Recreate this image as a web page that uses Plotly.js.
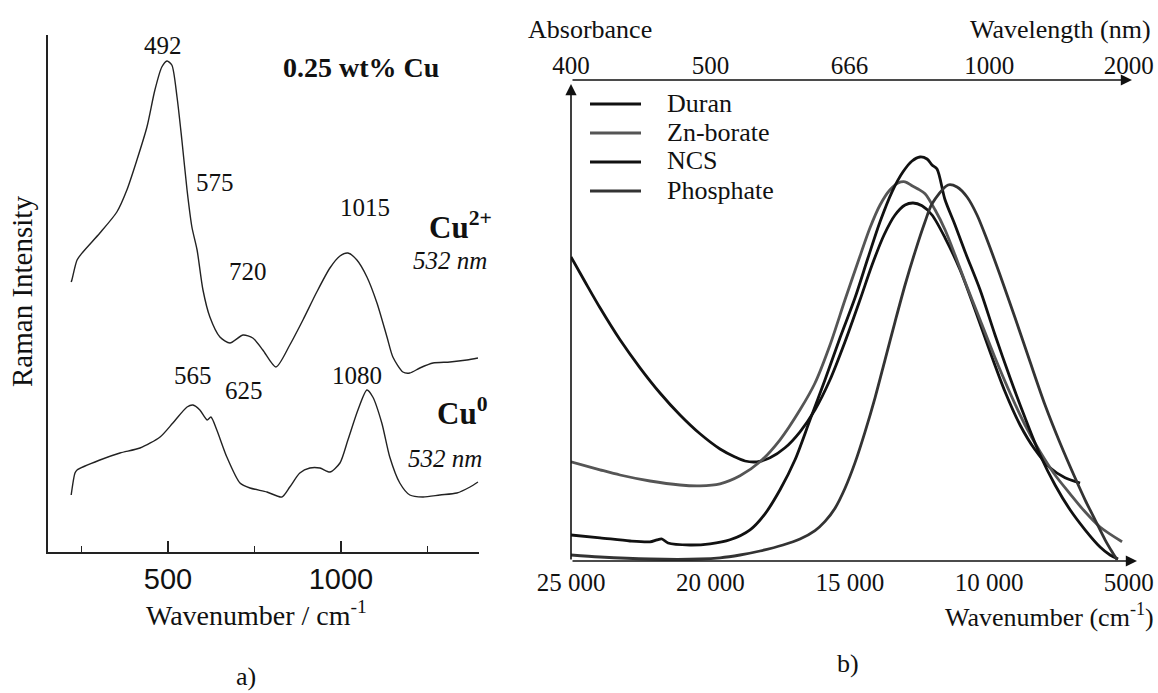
<!DOCTYPE html>
<html><head><meta charset="utf-8">
<script src="https://cdn.plot.ly/plotly-3.0.1.min.js"></script>
<style>html,body{margin:0;padding:0;background:#fff;}#chart{width:1158px;height:693px;}</style>
</head><body><div id="chart"></div>
<script>
// ---------- Panel a) Raman spectra ----------
const cu2Wavenumber = [220,222,237,254,303,352,381,410,439,462,482,497,511,526,540,555,569,584,601,621,650,679,717,745,774,812,852,890,930,968,997,1020,1046,1075,1104,1133,1150,1179,1199,1228,1266,1315,1364,1396];
const cu2Intensity  = [2.70,2.72,2.92,3.00,3.19,3.40,3.62,3.92,4.25,4.62,4.85,4.91,4.87,4.55,4.12,3.62,3.25,3.02,2.62,2.35,2.15,2.09,2.17,2.14,2.02,1.85,2.07,2.32,2.60,2.84,2.96,2.99,2.92,2.75,2.49,2.15,1.95,1.80,1.79,1.84,1.89,1.90,1.92,1.94];
const cu0Wavenumber = [220,231,237,303,361,419,477,514,555,572,592,613,624,641,670,708,737,786,829,852,881,910,939,968,997,1020,1049,1075,1092,1118,1141,1170,1199,1237,1286,1335,1373,1396];
const cu0Intensity  = [0.57,0.79,0.82,0.92,0.99,1.04,1.15,1.29,1.45,1.47,1.42,1.32,1.35,1.22,0.95,0.69,0.64,0.60,0.55,0.65,0.79,0.84,0.84,0.80,0.89,1.12,1.42,1.62,1.55,1.29,0.95,0.69,0.57,0.55,0.57,0.59,0.65,0.70];
const ramanTicks = [500, 1000];

// ---------- Panel b) Absorbance spectra ----------
const duranWn  = [25000,24498,23960,23242,22525,21808,21090,20373,19655,19117,18759,18328,17862,17324,16786,16248,15710,15172,14634,14203,13773,13378,13019,12732,12410,12051,11585,11047,10509,9971,9432,8894,8356,7818,7280,6742];
const duranAbs = [0.760,0.698,0.633,0.553,0.483,0.420,0.365,0.318,0.280,0.260,0.250,0.248,0.258,0.283,0.323,0.378,0.453,0.548,0.653,0.740,0.815,0.865,0.890,0.895,0.888,0.865,0.808,0.728,0.628,0.523,0.423,0.340,0.278,0.233,0.208,0.195];
const znWn  = [25000,23960,23242,22166,21090,20373,19655,18938,18221,17503,16786,16248,15710,15172,14705,14275,13916,13557,13271,13019,12768,12553,12302,11943,11585,11226,10867,10329,9791,9253,8715,8177,7639,7101,6563,6025,5236];
const znAbs = [0.248,0.228,0.215,0.200,0.190,0.188,0.193,0.213,0.248,0.303,0.378,0.445,0.540,0.653,0.748,0.833,0.890,0.928,0.945,0.948,0.938,0.930,0.918,0.878,0.828,0.765,0.698,0.603,0.508,0.420,0.340,0.273,0.215,0.168,0.123,0.085,0.048];
const ncsWn  = [25000,23960,22884,22166,21915,21736,21521,20731,20014,19297,18579,18041,17503,16965,16427,15889,15351,14813,14347,13916,13486,13091,12768,12481,12230,12051,11872,11585,11226,10867,10329,9791,9253,8715,8177,7639,7101,6563,6025,5666,5379];
const ncsAbs = [0.065,0.058,0.050,0.048,0.053,0.055,0.045,0.040,0.043,0.053,0.078,0.118,0.178,0.253,0.353,0.453,0.558,0.658,0.758,0.848,0.923,0.973,1.000,1.010,1.005,0.990,0.980,0.903,0.840,0.773,0.678,0.565,0.458,0.358,0.265,0.190,0.128,0.078,0.035,0.015,0.005];
const phosWn  = [25000,23960,22166,20373,19655,18938,18221,17396,16786,16248,15889,15531,15172,14813,14454,14096,13737,13378,13019,12660,12302,12051,11477,11154,10795,10437,10078,9612,9074,8536,7998,7460,6922,6563,6204,5845,5595,5415];
const phosAbs = [0.015,0.010,0.005,0.005,0.008,0.015,0.025,0.040,0.055,0.076,0.099,0.132,0.182,0.246,0.323,0.408,0.503,0.598,0.690,0.773,0.848,0.893,0.940,0.935,0.910,0.865,0.803,0.715,0.608,0.498,0.390,0.295,0.208,0.153,0.103,0.053,0.023,0.003];

const glassNames  = ['Duran', 'Zn-borate', 'NCS', 'Phosphate'];
const glassColors = ['#111111', '#555555', '#111111', '#333333'];
const glassWn  = [duranWn, znWn, ncsWn, phosWn];
const glassAbs = [duranAbs, znAbs, ncsAbs, phosAbs];

const wnTicks       = [25000, 20000, 15000, 10000, 5000];
const wnTickText    = ['25 000', '20 000', '15 000', '10 000', '5000'];
const lambdaTicks   = [25000, 20000, 15015, 10000, 5000];
const lambdaTickTxt = ['400', '500', '666', '1000', '2000'];

// ---------- layout helpers (pixel -> paper) ----------
const W = 1158, H = 693;
const px = v => v / W;
const py = v => 1 - v / H;
const SERIF = 'Liberation Serif, Times New Roman, serif';
const SANS = 'Liberation Sans, Arial, sans-serif';

const traces = [
  {x: cu2Wavenumber, y: cu2Intensity, xaxis: 'x', yaxis: 'y', mode: 'lines',
   line: {color: '#222', width: 1.4, shape: 'spline', smoothing: 0.7}, hoverinfo: 'skip'},
  {x: cu0Wavenumber, y: cu0Intensity, xaxis: 'x', yaxis: 'y', mode: 'lines',
   line: {color: '#222', width: 1.4, shape: 'spline', smoothing: 0.7}, hoverinfo: 'skip'}
];
glassNames.forEach((n, i) => traces.push({
  x: glassWn[i], y: glassAbs[i], name: n, xaxis: 'x2', yaxis: 'y2', mode: 'lines',
  line: {color: glassColors[i], width: 2.8, shape: 'spline', smoothing: 0.8}
}));
// invisible trace for the top (wavelength) axis
traces.push({x: [25000, 4700], y: [0, 0], xaxis: 'x3', yaxis: 'y2', mode: 'lines',
  line: {width: 0}, showlegend: false, hoverinfo: 'skip'});

const ann = [];
function txt(t, x, y, size, opts) {
  ann.push(Object.assign({text: t, x: px(x), y: py(y), xref: 'paper', yref: 'paper',
    showarrow: false, xanchor: 'center', yanchor: 'middle',
    font: {family: SERIF, size: size, color: '#111'}}, opts || {}));
}
// panel a labels
txt('492', 163, 45, 25);
txt('<b>0.25 wt% Cu</b>', 361, 67, 28);
txt('575', 215, 182, 25);
txt('1015', 365, 207, 25);
txt('720', 248, 272, 25);
txt('<b>Cu<sup>2+</sup></b>', 427, 225, 31, {xanchor: 'left'});
txt('<i>532 nm</i>', 450, 260, 25);
txt('565', 193, 375, 25);
txt('625', 244, 390, 25);
txt('1080', 357, 375, 25);
txt('<b>Cu<sup>0</sup></b>', 435, 411, 31, {xanchor: 'left'});
txt('<i>532 nm</i>', 445, 458, 25);
txt('Raman Intensity', 22, 292, 29, {textangle: -90});
txt('Wavenumber / cm<sup>-1</sup>', 256, 613, 28);
txt('a)', 246, 676, 26);
// panel b labels
txt('Absorbance', 590, 30, 26);
txt('Wavelength (nm)', 1153, 30, 26, {xanchor: 'right'});
txt('Wavenumber (cm<sup>-1</sup>)', 1156, 615, 26, {xanchor: 'right'});
txt('b)', 848, 663, 26);

// axis arrows for panel b
function arrow(xh, yh, axp, ayp) {
  ann.push({x: px(xh), y: py(yh), xref: 'paper', yref: 'paper', ax: axp, ay: ayp,
    axref: 'pixel', ayref: 'pixel', text: '', showarrow: true, arrowhead: 2,
    arrowsize: 1.4, arrowwidth: 1.6, arrowcolor: '#111', standoff: 0, startstandoff: 0});
}
arrow(1137, 561, -566, 0);
arrow(1132, 80, -561, 0);
arrow(571, 84, 0, 477);

// manual legend built from names & colours
const legY = [104, 133, 162, 191];
const shapes = [];
glassNames.forEach((n, i) => {
  shapes.push({type: 'line', xref: 'paper', yref: 'paper', x0: px(590), x1: px(641),
    y0: py(legY[i]), y1: py(legY[i]), line: {color: glassColors[i], width: 3}});
  txt(n, 665, legY[i] - 1, 26, {xanchor: 'left'});
});

const layout = {
  width: W, height: H, margin: {l: 0, r: 0, t: 0, b: 0},
  paper_bgcolor: '#fff', plot_bgcolor: 'rgba(0,0,0,0)', showlegend: false,
  xaxis: {domain: [px(48), px(479)], range: [153, 1399], anchor: 'y',
    showline: true, linecolor: '#222', linewidth: 2, showgrid: false, zeroline: false,
    ticks: 'inside', ticklen: 11, tickwidth: 2, tickcolor: '#222',
    tickvals: ramanTicks, tickfont: {family: SANS, size: 29, color: '#111'},
    minor: {ticks: 'inside', ticklen: 6, tickwidth: 1.6, tickcolor: '#222', dtick: 250, tick0: 0}},
  yaxis: {domain: [py(552), py(35)], range: [0, 5.17], anchor: 'x',
    showline: true, linecolor: '#222', linewidth: 2, showgrid: false, zeroline: false,
    ticks: '', showticklabels: false},
  xaxis2: {domain: [px(571), px(1137)], range: [25000, 4700], anchor: 'y2',
    showline: false, showgrid: false, zeroline: false, ticks: '', ticklabelstandoff: 4,
    tickvals: wnTicks, ticktext: wnTickText, tickfont: {family: SERIF, size: 25, color: '#111'}},
  xaxis3: {overlaying: 'x2', side: 'top', anchor: 'y2', range: [25000, 4700],
    showline: false, showgrid: false, zeroline: false, ticks: '',
    tickvals: lambdaTicks, ticktext: lambdaTickTxt, tickfont: {family: SERIF, size: 25, color: '#111'}},
  yaxis2: {domain: [py(561), py(80)], range: [0, 1.2025], anchor: 'x2',
    showline: false, showgrid: false, zeroline: false, ticks: '', showticklabels: false},
  annotations: ann, shapes: shapes
};

Plotly.newPlot('chart', traces, layout, {staticPlot: true, displayModeBar: false});
</script></body></html>
